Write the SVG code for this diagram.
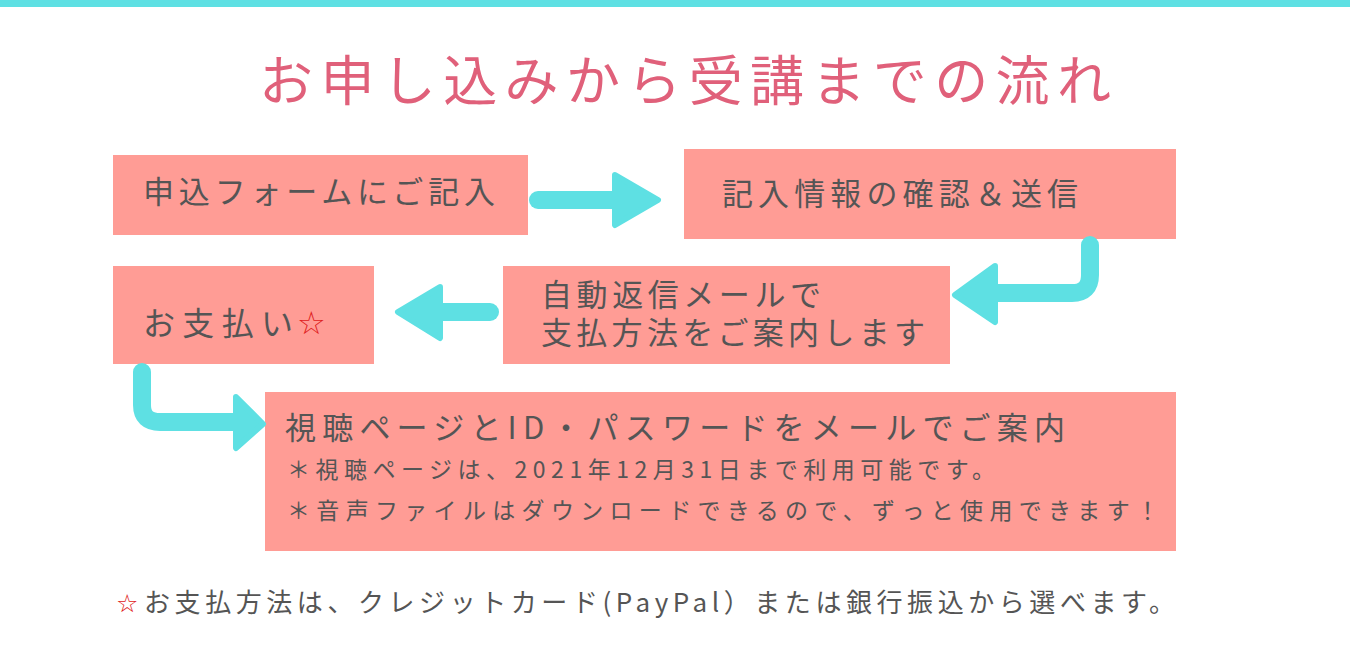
<svg xmlns="http://www.w3.org/2000/svg" width="1350" height="650" viewBox="0 0 1350 650">
<defs><style>
.box{fill:#FF9C95}
.t{font-family:"Noto Sans CJK JP","Noto Sans",sans-serif;fill:#555;}
.arr{fill:none;stroke:#5EE0E3;stroke-width:18;stroke-linecap:round;stroke-linejoin:round}
.head{fill:#5EE0E3;stroke:#5EE0E3;stroke-width:6;stroke-linejoin:round}
.star{fill:#E02020}
</style></defs>
<rect width="1350" height="650" fill="#fff"/>
<rect x="0" y="0" width="1350" height="7" fill="#5EE0E3"/>
<text x="685" y="101" text-anchor="middle" font-size="54" fill="#E0607A" font-family="Noto Sans CJK JP,sans-serif" textLength="852" lengthAdjust="spacing">お申し込みから受講までの流れ</text>
<g id="n1"><rect class="box" x="113" y="155" width="415" height="80"/><text class="t" x="143" y="203" font-size="31" textLength="352" lengthAdjust="spacing">申込フォームにご記入</text></g>
<g id="n2"><rect class="box" x="684" y="149" width="492" height="90"/><text class="t" x="722" y="205" font-size="31" textLength="356" lengthAdjust="spacing">記入情報の確認＆送信</text></g>
<g id="n3"><rect class="box" x="503" y="266" width="447" height="98"/><text class="t" x="541" y="306" font-size="31" textLength="280" lengthAdjust="spacing">自動返信メールで</text><text class="t" x="541" y="344" font-size="31" textLength="384" lengthAdjust="spacing">支払方法をご案内します</text></g>
<g id="n4"><rect class="box" x="113" y="266" width="261" height="98"/><text class="t" x="143" y="335" font-size="32" textLength="150" lengthAdjust="spacing">お支払い</text><text class="star" x="297" y="334" font-size="32" font-family="DejaVu Sans,sans-serif">☆</text></g>
<g id="n5"><rect class="box" x="265" y="392" width="911" height="159"/>
<text class="t" x="285" y="439" font-size="31" textLength="780" lengthAdjust="spacing">視聴ページとID・パスワードをメールでご案内</text>
<text class="t" x="287" y="478" font-size="23" textLength="708" lengthAdjust="spacing">＊視聴ページは、2021年12月31日まで利用可能です。</text>
<text class="t" x="287" y="519" font-size="23" textLength="872" lengthAdjust="spacing">＊音声ファイルはダウンロードできるので、ずっと使用できます！</text></g>
<g id="connectors">
<path class="arr" d="M538 200 H615"/><path class="head" d="M615 175 L658 200 L615 225 Z"/>
<path class="arr" d="M1090 245 V275 Q1090 293 1072 293 H995"/><path class="head" d="M995 266 L955 295 L995 322 Z"/>
<path class="arr" d="M490 312 H440"/><path class="head" d="M440 287 L398 312 L440 338 Z"/>
<path class="arr" d="M142 372 V405 Q142 422 160 422 H236"/><path class="head" d="M236 397 L263 424 L236 448 Z"/>
</g>
<text class="star" x="116" y="612" font-size="25" font-family="DejaVu Sans,sans-serif">☆</text>
<text class="t" x="144" y="612" font-size="26" textLength="1031" lengthAdjust="spacing">お支払方法は、クレジットカード(PayPal）または銀行振込から選べます。</text>
</svg>
